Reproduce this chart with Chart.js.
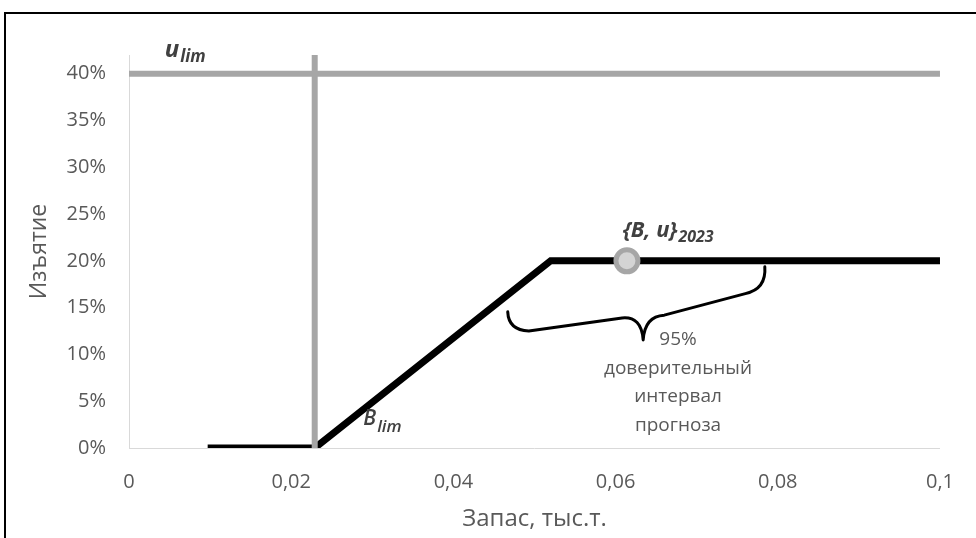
<!DOCTYPE html>
<html>
<head>
<meta charset="utf-8">
<script src="https://cdn.jsdelivr.net/npm/chart.js@4"></script>
<style>
  body { margin: 0; background: #fff; }
  #wrap { position: relative; width: 976px; height: 538px; overflow: hidden; }
  #frame { position: absolute; left: 4px; top: 12px; width: 990px; height: 550px; border: 2px solid #000; }
  #chart { position: absolute; left: 0; top: 0; }
</style>
</head>
<body>
<div id="wrap">
  <div id="frame"></div>
  <canvas id="chart" width="976" height="538"></canvas>
</div>
<script>
// DATA
const harvestX = [0.0097, 0.0229, 0.052, 0.1];
const harvestY = [0, 0, 0.2, 0.2];
const bLimX = [0.0229, 0.0229];
const bLimY = [0, 0.42];
const uLimX = [0, 0.1];
const uLimY = [0.4, 0.4];
const pointX = [0.0614];
const pointY = [0.2];
const xTicks = [0, 0.02, 0.04, 0.06, 0.08, 0.1];
const yTicks = [0, 0.05, 0.1, 0.15, 0.2, 0.25, 0.3, 0.35, 0.4];

const FONT = "'Open Sans', 'DejaVu Sans', sans-serif";
const GREY_TEXT = '#595959';

function toPoints(xs, ys) {
  return xs.map((x, i) => ({ x: x, y: ys[i] }));
}

// brace under the forecast interval, in data units
const brace = [
  [0.0467, 0.1455], [0.0468, 0.126], [0.0493, 0.125],
  [0.0608, 0.139], [0.0632, 0.141], [0.0634, 0.1155],
  [0.0636, 0.141], [0.0660, 0.142], [0.0760, 0.165],
  [0.0786, 0.170], [0.0784, 0.1936]
];

function drawSubLabel(ctx, main, sub, x, y, size, subSize, weight, dy) {
  ctx.font = `italic ${weight} ${size}px ${FONT}`;
  ctx.textAlign = 'left';
  ctx.textBaseline = 'alphabetic';
  ctx.fillText(main, x, y);
  const w = ctx.measureText(main).width;
  ctx.font = `italic ${weight} ${subSize}px ${FONT}`;
  ctx.fillText(sub, x + w + 1, y + dy);
}

const annotations = {
  id: 'annotations',
  afterDatasetsDraw(chart) {
    const ctx = chart.ctx;
    const xs = chart.scales.x, ys = chart.scales.y;
    const px = v => xs.getPixelForValue(v);
    const py = v => ys.getPixelForValue(v);
    ctx.save();

    // brace
    const p = brace.map(([a, b]) => [px(a), py(b)]);
    ctx.beginPath();
    ctx.moveTo(p[0][0], p[0][1]);
    ctx.quadraticCurveTo(p[1][0], p[1][1], p[2][0], p[2][1]);
    ctx.lineTo(p[3][0], p[3][1]);
    ctx.quadraticCurveTo(p[4][0], p[4][1], p[5][0], p[5][1]);
    ctx.quadraticCurveTo(p[6][0], p[6][1], p[7][0], p[7][1]);
    ctx.lineTo(p[8][0], p[8][1]);
    ctx.quadraticCurveTo(p[9][0], p[9][1], p[10][0], p[10][1]);
    ctx.strokeStyle = '#000';
    ctx.lineWidth = 3;
    ctx.lineJoin = 'round';
    ctx.lineCap = 'round';
    ctx.stroke();

    // labels
    ctx.fillStyle = '#404040';
    drawSubLabel(ctx, 'u', 'lim', px(0.0044), py(0.418), 24, 17, 'bold', 5);
    drawSubLabel(ctx, 'B', 'lim', px(0.0289), py(0.0246), 21, 17, '600', 7);
    drawSubLabel(ctx, '{B, u}', '2023', px(0.0609), py(0.2257), 22, 16, 'bold', 5);

    ctx.fillStyle = GREY_TEXT;
    ctx.font = `19px ${FONT}`;
    ctx.textAlign = 'center';
    ctx.textBaseline = 'middle';
    const cx = px(0.0677);
    const lines = ['95%', 'доверительный', 'интервал', 'прогноза'];
    lines.forEach((t, i) => ctx.fillText(t, cx, 340 + i * 28.5));
    ctx.restore();
  }
};

new Chart(document.getElementById('chart'), {
  type: 'scatter',
  data: {
    datasets: [
      {
        label: 'forecast',
        data: toPoints(pointX, pointY),
        pointRadius: 11,
        pointBorderWidth: 5,
        pointBackgroundColor: '#d4d4d4',
        pointBorderColor: '#a6a6a6',
        showLine: false,
        order: 0
      },
      {
        label: 'Blim',
        data: toPoints(bLimX, bLimY),
        showLine: true,
        borderColor: '#a6a6a6',
        borderWidth: 6,
        pointRadius: 0,
        order: 1
      },
      {
        label: 'harvest',
        data: toPoints(harvestX, harvestY),
        showLine: true,
        borderColor: '#000',
        borderWidth: 7,
        pointRadius: 0,
        borderJoinStyle: 'miter',
        order: 2
      },
      {
        label: 'ulim',
        data: toPoints(uLimX, uLimY),
        showLine: true,
        borderColor: '#a6a6a6',
        borderWidth: 6,
        pointRadius: 0,
        order: 3
      }
    ]
  },
  options: {
    responsive: false,
    animation: false,
    layout: { padding: { top: 55, right: 36, bottom: 0, left: 0 } },
    plugins: {
      legend: { display: false },
      tooltip: { enabled: false }
    },
    scales: {
      x: {
        type: 'linear',
        min: 0,
        max: 0.1,
        afterFit: scale => { scale.height = 90; },
        afterBuildTicks: scale => { scale.ticks = xTicks.map(v => ({ value: v })); },
        grid: { display: true, drawOnChartArea: false, drawTicks: false },
        border: { display: true, color: '#d9d9d9', width: 1 },
        ticks: {
          padding: 22,
          color: GREY_TEXT,
          font: { family: FONT, size: 20 },
          callback: v => String(+v.toFixed(2)).replace('.', ',')
        },
        title: {
          display: true,
          text: 'Запас, тыс.т.',
          color: GREY_TEXT,
          font: { family: FONT, size: 24 },
          padding: { top: 0, bottom: 4 }
        }
      },
      y: {
        type: 'linear',
        min: 0,
        max: 0.42,
        afterFit: scale => { scale.width = 129; },
        afterBuildTicks: scale => { scale.ticks = yTicks.map(v => ({ value: v })); },
        grid: { display: true, drawOnChartArea: false, drawTicks: false },
        border: { display: true, color: '#d9d9d9', width: 1 },
        ticks: {
          padding: 23,
          color: GREY_TEXT,
          font: { family: FONT, size: 20 },
          callback: v => Math.round(v * 100) + '%'
        },
        title: {
          display: true,
          text: 'Изъятие',
          color: GREY_TEXT,
          font: { family: FONT, size: 23 },
          padding: { top: 26, bottom: 0 }
        }
      }
    }
  },
  plugins: [annotations]
});
</script>
</body>
</html>
